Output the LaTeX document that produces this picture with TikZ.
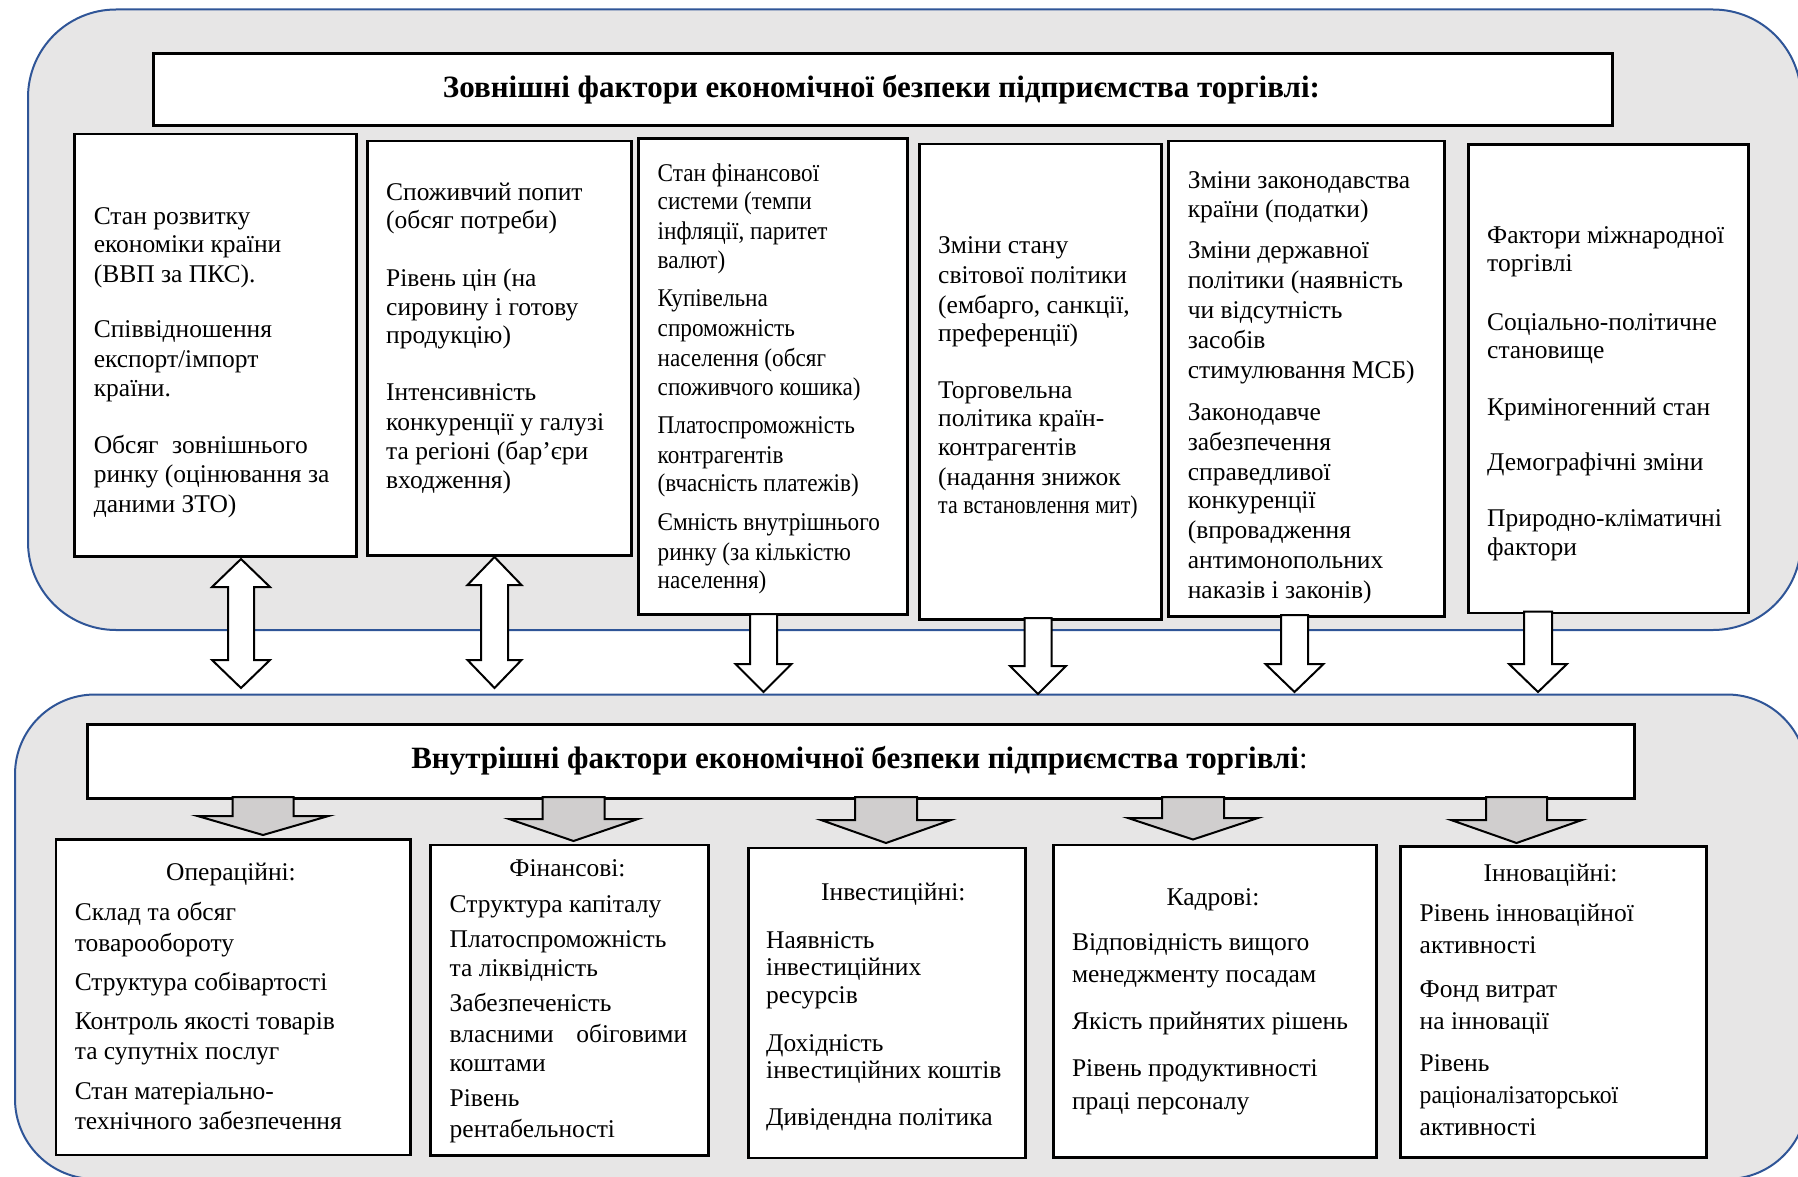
\documentclass[tikz,border=0pt]{standalone}
\usepackage{fontspec}
\setmainfont{Liberation Serif}
\newfontfamily\condfont[FakeStretch=0.86]{Liberation Serif}
\newfontfamily\condfontA[FakeStretch=0.91]{Liberation Serif}
\newfontfamily\condfontB[FakeStretch=0.93]{Liberation Serif}
\definecolor{contfill}{RGB}{231,230,230}
\definecolor{contline}{RGB}{47,85,151}
\definecolor{arrgray}{RGB}{208,206,206}
\tikzset{
 cont/.style={draw=contline, line width=2pt, fill=contfill, rounded corners=88pt, inner sep=0pt, anchor=north west},
 fbox/.style={draw=black, line width=2.5pt, fill=white, inner sep=0pt, anchor=north west},
 tbox/.style={fbox, line width=3pt},
 tx/.style={anchor=base west, inner sep=0pt, font=\fontsize{25.5}{30}\selectfont},
 cond/.style={font=\fontsize{25.5}{30}\selectfont\condfontA},
 th/.style={anchor=base, inner sep=0pt, font=\fontsize{25.5}{30}\selectfont},
 ttl/.style={anchor=base, inner sep=0pt, font=\fontsize{31}{36}\selectfont\bfseries},
 warr/.style={draw=black, line width=2pt, fill=white, line join=miter},
 garr/.style={draw=black, line width=2pt, fill=arrgray, line join=miter},
}
\newcommand\boxlines[4]{%
 \foreach \yy/\lntext [count=\k] in {#4}{\node[tx,#3] (#1-\k) at (#2,\yy) {\lntext};}}
\newcommand\dblarrow[7]{%
 \draw[#1] (#2,#3) -- (#2+#6,#3+#7) -- (#2+#5,#3+#7) -- (#2+#5,#4-#7) -- (#2+#6,#4-#7) -- (#2,#4)
   -- (#2-#6,#4-#7) -- (#2-#5,#4-#7) -- (#2-#5,#3+#7) -- (#2-#6,#3+#7) -- cycle;}
\newcommand\onearrow[7]{%
 \draw[#1] (#2-#5,#3) -- (#2+#5,#3) -- (#2+#5,#4-#7) -- (#2+#6,#4-#7) -- (#2,#4)
   -- (#2-#6,#4-#7) -- (#2-#5,#4-#7) -- cycle;}
\begin{document}
\begin{tikzpicture}[x=1pt,y=-1pt]
\useasboundingbox (0,0) rectangle (1798,1177);
\clip (0,0) rectangle (1798,1177);
% containers
\node[cont, minimum width=1773pt, minimum height=620.5pt] (outer) at (27,8.5) {};
\node[cont, rounded corners=80pt, minimum width=1792pt, minimum height=484.5pt] (inner) at (14,693.5) {};
% title boxes
\node[tbox, minimum width=1459pt, minimum height=72.3pt] (ext) at (152,51.7) {};
\node[tbox, minimum width=1547pt, minimum height=74pt] (int) at (86,723) {};
% external boxes
\node[fbox, minimum width=282pt, minimum height=422pt] (e1) at (73,133) {};
\node[fbox, minimum width=264pt, minimum height=414pt] (e2) at (366,140) {};
\node[fbox, minimum width=269pt, minimum height=476pt] (e3) at (637,137.3) {};
\node[fbox, minimum width=242pt, minimum height=475pt] (e4) at (918,143) {};
\node[fbox, minimum width=276pt, minimum height=475pt] (e5) at (1167,140) {};
\node[fbox, minimum width=280pt, minimum height=468.5pt] (e6) at (1467,143.3) {};
% internal boxes
\node[fbox, minimum width=354.5pt, minimum height=315.5pt] (i1) at (54.5,838.3) {};
\node[fbox, minimum width=278pt, minimum height=310.5pt] (i2) at (429,843.5) {};
\node[fbox, minimum width=277pt, minimum height=310pt] (i3) at (747,846.7) {};
\node[fbox, minimum width=323pt, minimum height=312.5pt] (i4) at (1052,843.5) {};
\node[fbox, minimum width=306pt, minimum height=311pt] (i5) at (1399,845) {};
% white arrows
\dblarrow{warr}{241}{559}{688}{13}{29}{28}
\dblarrow{warr}{494.5}{557}{688}{13.5}{27}{28}
\onearrow{warr}{763.5}{614}{692}{13.5}{28}{28}
\onearrow{warr}{1038}{618}{694}{13.5}{28}{28}
\onearrow{warr}{1294.5}{615}{692}{13.5}{29}{28}
\onearrow{warr}{1538}{611.7}{692}{14}{29}{28}
% gray arrows
\onearrow{garr}{263}{797}{835}{30.5}{65.5}{19}
\onearrow{garr}{573.5}{797}{841}{31}{64.5}{22}
\onearrow{garr}{886}{797}{843}{31}{65}{23}
\onearrow{garr}{1193}{797}{839.5}{31}{65}{21.5}
\onearrow{garr}{1516.5}{797}{843}{30.5}{65.5}{23}
% titles
\node[ttl] (ext-t) at (881.5,97.6) {Зовнішні фактори економічної безпеки підприємства торгівлі:};
\node[ttl] (int-t) at (859.5,768.7) {Внутрішні фактори економічної безпеки підприємства торгівлі\textmd{:}};
% external texts
\boxlines{e1t}{93.6}{}{224/{Стан розвитку}, 252.6/{економіки країни}, 282/{(ВВП за ПКС).},
 337/{Співвідношення}, 367/{експорт/імпорт}, 396/{країни.},
 453/{\makebox[214pt][s]{Обсяг\hfill зовнішнього}}, 482/{ринку (оцінювання за}, 512/{даними ЗТО)}}
\boxlines{e2t}{386}{}{200.5/{Споживчий попит}, 229/{(обсяг потреби)},
 286.5/{Рівень цін (на}, 315/{сировину і готову}, 343.5/{продукцію)},
 400.5/{Інтенсивність}, 430/{конкуренції у галузі}, 459/{та регіоні (бар’єри}, 488.5/{входження)}}
\boxlines{e3t}{657.5}{cond}{181.7/{Стан фінансової}, 210/{системи  (темпи}, 240/{інфляції, паритет}, 268.3/{валют)},
 306.7/{Купівельна}, 336.7/{спроможність}, 366.7/{населення (обсяг}, 395/{споживчого кошика)},
 433.3/{Платоспроможність}, 463.3/{контрагентів}, 491.7/{(вчасність платежів)},
 530/{Ємність внутрішнього}, 560/{ринку (за кількістю}, 588.3/{населення)}}
\boxlines{e4t}{938}{}{253.3/{Зміни стану}, 283.3/{світової політики}, 313.3/{(ембарго, санкції,}, 341.7/{преференції)},
 398.3/{Торговельна}, 426.7/{політика країн-}, 455/{контрагентів}, 485/{(надання знижок},
 513.3/{{\condfont та встановлення мит)}}}
\boxlines{e5t}{1187.6}{}{188.3/{Зміни законодавства}, 217.3/{країни (податки)},
 258.3/{Зміни державної}, 288.3/{політики (наявність}, 318.3/{чи відсутність}, 348.3/{засобів}, 378.3/{стимулювання МСБ)},
 420/{Законодавче}, 450/{забезпечення}, 480/{справедливої}, 508.3/{конкуренції}, 538.3/{(впровадження},
 568.3/{антимонопольних}, 598.3/{наказів і законів)}}
\boxlines{e6t}{1487}{}{243.3/{Фактори міжнародної}, 271.7/{торгівлі}, 330/{Соціально-політичне}, 358.3/{становище},
 415/{Криміногенний стан}, 470/{Демографічні зміни}, 526.7/{Природно-кліматичні}, 555/{фактори}}
% internal headings
\node[th] (i1h) at (231,880.5) {Операційні:};
\node[th] (i2h) at (567.5,876.5) {Фінансові:};
\node[th] (i3h) at (893.3,900) {Інвестиційні:};
\node[th] (i4h) at (1213,905) {Кадрові:};
\node[th] (i5h) at (1550.6,881.5) {Інноваційні:};
% internal texts
\boxlines{i1t}{74.6}{}{920/{Склад та обсяг}, 951/{товарообороту}, 990/{Структура собівартості},
 1029/{Контроль якості товарів}, 1059/{та супутніх послуг}, 1099/{Стан матеріально-}, 1129.5/{технічного забезпечення}}
\boxlines{i2t}{449.5}{}{912.5/{Структура капіталу}, 947/{Платоспроможність}, 976.5/{та ліквідність},
 1011.5/{Забезпеченість}, 1042/{\makebox[237.5pt][s]{власними\hfill обіговими}}, 1071/{коштами},
 1106/{Рівень}, 1137/{рентабельності}}
\boxlines{i3t}{766}{}{948/{Наявність}, 975.5/{інвестиційних}, 1003/{ресурсів},
 1051.5/{Дохідність}, 1078/{інвестиційних коштів}, 1125/{Дивідендна політика}}
\boxlines{i4t}{1071.8}{}{950.7/{Відповідність вищого}, 982.5/{менеджменту посадам}, 1029.5/{Якість прийнятих рішень},
 1076.7/{Рівень продуктивності}, 1109/{праці персоналу}}
\boxlines{i5t}{1419.5}{}{921.5/{Рівень інноваційної}, 953.5/{активності}, 997/{Фонд витрат}, 1029/{на інновації},
 1071/{Рівень}, 1103/{{\condfontB раціоналізаторської}}, 1135/{активності}}
\end{tikzpicture}
\end{document}
